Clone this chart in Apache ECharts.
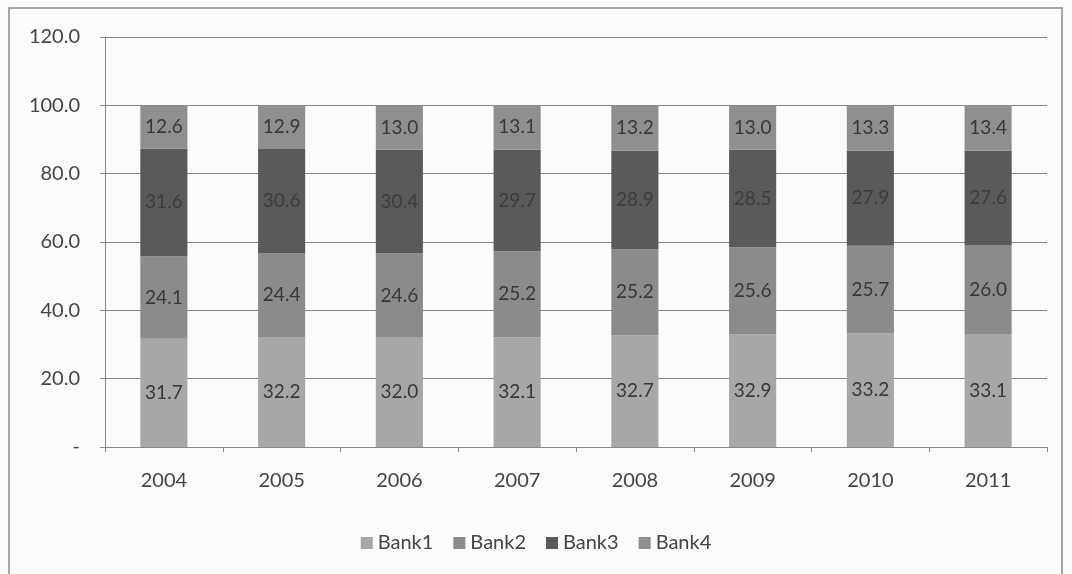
<!DOCTYPE html>
<html>
<head>
<meta charset="utf-8">
<script src="https://cdn.jsdelivr.net/npm/echarts@6/dist/echarts.min.js"></script>
<style>
html,body{margin:0;padding:0;background:#fbfbfb;}
#c{width:1072px;height:574px;}
</style>
</head>
<body>
<div id="c"></div>
<script>
const categories = ['2004','2005','2006','2007','2008','2009','2010','2011'];
const bank1 = [31.7, 32.2, 32.0, 32.1, 32.7, 32.9, 33.2, 33.1];
const bank2 = [24.1, 24.4, 24.6, 25.2, 25.2, 25.6, 25.7, 26.0];
const bank3 = [31.6, 30.6, 30.4, 29.7, 28.9, 28.5, 27.9, 27.6];
const bank4 = [12.6, 12.9, 13.0, 13.1, 13.2, 13.0, 13.3, 13.4];
const seriesNames = ['Bank1','Bank2','Bank3','Bank4'];
const yTicks = [0, 20, 40, 60, 80, 100, 120];

const colors = ['#a7a7a7', '#8b8b8b', '#5a5a5a', '#8f8f8f'];
const font = 'Lato';
const chart = echarts.init(document.getElementById('c'));
const mk = (name, data, i) => ({
  name, type: 'bar', stack: 'total', data,
  barWidth: '40%',
  itemStyle: {color: colors[i]},
  label: {show: true, position: 'inside', formatter: p => p.value.toFixed(1),
    color: i === 2 ? '#3c3c3c' : '#383838', fontFamily: font, fontSize: 19},
});
chart.setOption({
  backgroundColor: '#fbfbfb',
  animation: false,
  graphic: [{type: 'rect', shape: {x: 9, y: 8, width: 1053, height: 580},
    style: {fill: 'none', stroke: '#8a8a8a', lineWidth: 1.5}}],
  grid: {left: 105, right: 25, top: 37, bottom: 127, containLabel: false},
  legend: {top: 528, left: 'center', itemWidth: 12, itemHeight: 12, itemGap: 20,
    icon: 'rect', textStyle: {fontFamily: font, fontSize: 20, color: '#444'},
    data: seriesNames},
  xAxis: {type: 'category', data: categories,
    axisLine: {lineStyle: {color: '#888', width: 1}},
    axisTick: {show: true, length: 5, lineStyle: {color: '#888'}},
    axisLabel: {fontFamily: font, fontSize: 20, color: '#444', margin: 24}},
  yAxis: {type: 'value', min: yTicks[0], max: yTicks[yTicks.length-1], interval: 20,
    axisLine: {show: true, lineStyle: {color: '#888'}},
    axisTick: {show: true, length: 5, lineStyle: {color: '#888'}},
    splitLine: {lineStyle: {color: '#858585', width: 1}},
    axisLabel: {fontFamily: font, fontSize: 20, color: '#444', margin: 25,
      formatter: v => v === 0 ? '-' : v.toFixed(1)}},
  series: [mk('Bank1', bank1, 0), mk('Bank2', bank2, 1), mk('Bank3', bank3, 2), mk('Bank4', bank4, 3)]
});
</script>
</body>
</html>
